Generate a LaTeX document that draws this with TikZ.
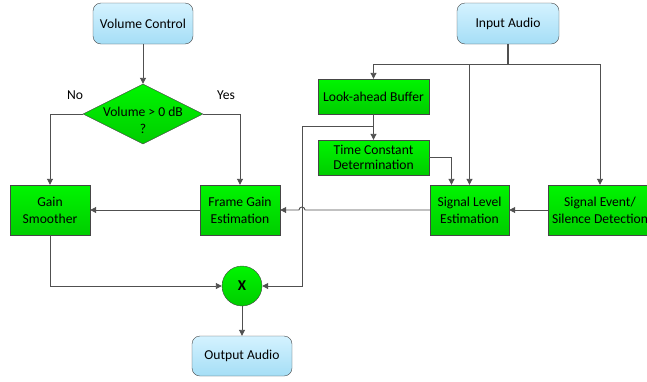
\documentclass[tikz,border=0pt]{standalone}
\usepackage{fontspec}
\setmainfont{Carlito}
\usepackage{tikz}
\usetikzlibrary{arrows.meta,positioning,shapes.geometric}

\definecolor{linegray}{RGB}{80,80,80}
\definecolor{edgegray}{RGB}{70,70,70}
\definecolor{greentop}{RGB}{0,245,0}
\definecolor{greenbot}{RGB}{0,205,0}
\definecolor{bluetop}{RGB}{212,242,255}
\definecolor{bluebot}{RGB}{165,222,246}

\begin{document}
\begin{tikzpicture}[
  x=1pt,y=-1pt,
  font=\fontsize{13.6}{17}\selectfont,
  termbox/.style={draw=edgegray,rounded corners=8pt,minimum width=100pt,minimum height=41pt,align=center,top color=bluetop,bottom color=bluebot},
  procbox/.style={draw=edgegray,minimum width=80pt,minimum height=50pt,inner sep=1pt,align=center,top color=greentop,bottom color=greenbot},
  flatbox/.style={procbox,minimum width=111pt,minimum height=35pt,font=\fontsize{13.6}{15.5}\selectfont},
  decision/.style={draw=edgegray,diamond,aspect=2,minimum width=120pt,minimum height=60pt,inner sep=0pt,top color=greentop,bottom color=greenbot},
  mixer/.style={draw=edgegray,circle,minimum size=40pt,inner sep=0pt,top color=greentop,bottom color=greenbot,font=\fontsize{15}{17}\selectfont\bfseries},
  line/.style={draw=linegray,line width=0.9pt},
  arr/.style={line,-{Triangle[length=6pt,width=6pt]}}
]
\clip (0,0) rectangle (647,381);

% left column
\node[termbox] (vc) at (143,23.5) {Volume Control};
\node[decision] (dec) at (143,114) {\raisebox{-11pt}[0pt][0pt]{\begin{tabular}{@{}c@{}}Volume > 0 dB\\?\end{tabular}}};
\node (no) at (75,95) {No};
\node (yes) at (226,95) {Yes};
\node[procbox] (gs) at (50,210) {Gain\\Smoother};
\node[procbox] (fge) at (240,210) {Frame Gain\\Estimation};
\node[mixer] (mul) at (242,286) {X};
\node[termbox,minimum height=40pt] (oa) at (242,356) {Output Audio};

% right column
\node[termbox,minimum width=102pt] (ia) at (508,23.5) {Input Audio};
\node[flatbox] (lab) at (373.5,96.5) {Look-ahead Buffer};
\node[flatbox] (tcd) at (373.5,157.5) {Time Constant\\Determination};
\node[procbox,minimum width=79pt] (sle) at (469.5,210) {Signal Level\\Estimation};
\node[procbox,minimum width=104pt] (sed) at (600,210) {Signal Event/\\Silence Detection};

\coordinate (bus) at (508,64);
\coordinate (tap) at (373.5,126);
\coordinate (turn) at (302,126);

\draw[arr] (vc) -- (dec);
\draw[arr] (dec.west) -| (gs.north);
\draw[arr] (dec.east) -| (fge.north);
\draw[arr] (fge) -- (gs);
\draw[arr] (gs.south) |- (mul.west);
\draw[arr] (mul) -- (oa);

\draw[line,line width=1.6pt] (ia.south) -- (bus);
\draw[arr] (bus) -| (lab.north);
\draw[arr] (bus) -| (sle.north);
\draw[arr] (bus) -| (sed.north);
\draw[arr] (lab) -- (tcd);
\draw[arr] (tcd.east) -| ([xshift=-18pt]sle.north);
\draw[arr] (sed) -- (sle);
\draw[arr] (tap) -- (turn) |- (mul.east);
\draw[arr] (sle.west) -- (305,210) arc[start angle=0,end angle=180,radius=3pt] -- (fge.east);
\end{tikzpicture}
\end{document}
